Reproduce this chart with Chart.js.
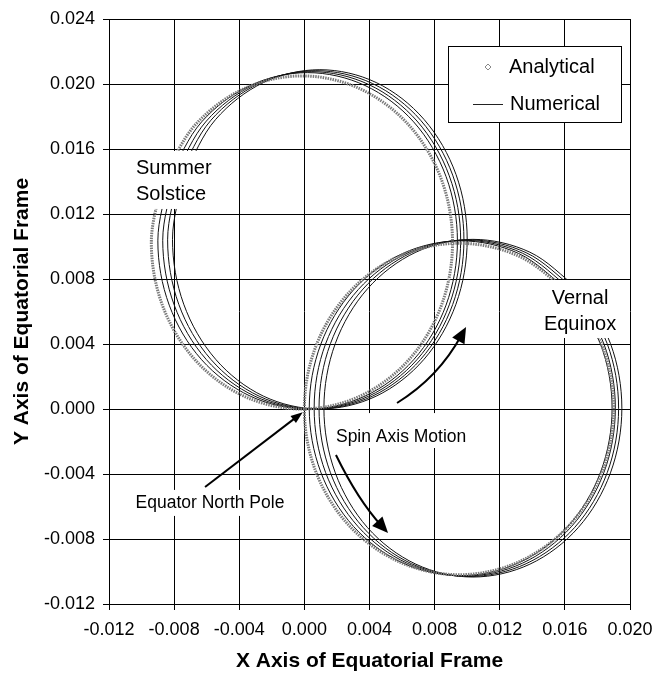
<!DOCTYPE html>
<html>
<head>
<meta charset="utf-8">
<script src="https://cdn.jsdelivr.net/npm/chart.js@4.4.0/dist/chart.umd.min.js"></script>
<style>
  html, body { margin: 0; padding: 0; background: #fff; }
  canvas { display: block; }
</style>
</head>
<body>
<canvas id="spinChart" width="667" height="673"></canvas>
<script>
// Axis ticks
const xTickValues = [-0.012, -0.008, -0.004, 0.000, 0.004, 0.008, 0.012, 0.016, 0.020];
const yTickValues = [-0.012, -0.008, -0.004, 0.000, 0.004, 0.008, 0.012, 0.016, 0.020, 0.024];

// Summer solstice loops [x, y]
const solsticeAnalytical = [[-0.00870,0.01417],[-0.00940,0.01025],[-0.00870,0.00633],[-0.00669,0.00300],[-0.00369,0.00078],[-0.00015,0],[0.00339,0.00078],[0.00639,0.00300],[0.00840,0.00633],[0.00910,0.01025],[0.00840,0.01417],[0.00639,0.01750],[0.00339,0.01972],[-0.00015,0.02050],[-0.00369,0.01972],[-0.00669,0.01750],[-0.00870,0.01417]];
const solsticeNumerical1 = [[-0.00830,0.01431],[-0.00900,0.01035],[-0.00830,0.00639],[-0.00631,0.00303],[-0.00332,0.00079],[0.00020,0],[0.00372,0.00079],[0.00671,0.00303],[0.00870,0.00639],[0.00940,0.01035],[0.00870,0.01431],[0.00671,0.01767],[0.00372,0.01991],[0.00020,0.02070],[-0.00332,0.01991],[-0.00631,0.01767],[-0.00830,0.01431]];
const solsticeNumerical2 = [[-0.00800,0.01435],[-0.00870,0.01038],[-0.00800,0.00641],[-0.00602,0.00304],[-0.00305,0.00079],[0.00045,0],[0.00395,0.00079],[0.00692,0.00304],[0.00890,0.00641],[0.00960,0.01038],[0.00890,0.01435],[0.00692,0.01772],[0.00395,0.01997],[0.00045,0.02076],[-0.00305,0.01997],[-0.00602,0.01772],[-0.00800,0.01435]];
const solsticeNumerical3 = [[-0.00771,0.01439],[-0.00840,0.01041],[-0.00771,0.00643],[-0.00574,0.00305],[-0.00278,0.00079],[0.00070,0],[0.00418,0.00079],[0.00714,0.00305],[0.00911,0.00643],[0.00980,0.01041],[0.00911,0.01439],[0.00714,0.01777],[0.00418,0.02003],[0.00070,0.02082],[-0.00278,0.02003],[-0.00574,0.01777],[-0.00771,0.01439]];
const solsticeNumerical4 = [[-0.00741,0.01444],[-0.00810,0.01044],[-0.00741,0.00645],[-0.00545,0.00306],[-0.00251,0.00079],[0.00095,0],[0.00441,0.00079],[0.00735,0.00306],[0.00931,0.00645],[0.01000,0.01044],[0.00931,0.01444],[0.00735,0.01782],[0.00441,0.02009],[0.00095,0.02088],[-0.00251,0.02009],[-0.00545,0.01782],[-0.00741,0.01444]];

// Vernal equinox loops [x, y]
const equinoxAnalytical = [[0.01622,0.00721],[0.01314,0.00942],[0.00950,0.01020],[0.00586,0.00942],[0.00278,0.00721],[0.00072,0.00390],[0,0],[0.00072,-0.00390],[0.00278,-0.00721],[0.00586,-0.00942],[0.00950,-0.01020],[0.01314,-0.00942],[0.01622,-0.00721],[0.01828,-0.00390],[0.01900,0],[0.01828,0.00390],[0.01622,0.00721]];
const equinoxNumerical1 = [[0.01618,0.00733],[0.01316,0.00957],[0.00960,0.01035],[0.00604,0.00957],[0.00302,0.00733],[0.00101,0.00399],[0.00030,0.00005],[0.00101,-0.00389],[0.00302,-0.00723],[0.00604,-0.00947],[0.00960,-0.01025],[0.01316,-0.00947],[0.01618,-0.00723],[0.01819,-0.00389],[0.01890,0.00005],[0.01819,0.00399],[0.01618,0.00733]];
const equinoxNumerical2 = [[0.01639,0.00735],[0.01339,0.00959],[0.00985,0.01038],[0.00631,0.00959],[0.00331,0.00735],[0.00130,0.00400],[0.00060,0.00005],[0.00130,-0.00390],[0.00331,-0.00725],[0.00631,-0.00949],[0.00985,-0.01028],[0.01339,-0.00949],[0.01639,-0.00725],[0.01840,-0.00390],[0.01910,0.00005],[0.01840,0.00400],[0.01639,0.00735]];
const equinoxNumerical3 = [[0.01661,0.00738],[0.01362,0.00962],[0.01010,0.01041],[0.00658,0.00962],[0.00360,0.00738],[0.00160,0.00402],[0.00090,0.00005],[0.00160,-0.00392],[0.00360,-0.00728],[0.00658,-0.00952],[0.01010,-0.01031],[0.01362,-0.00952],[0.01661,-0.00728],[0.01860,-0.00392],[0.01930,0.00005],[0.01860,0.00402],[0.01661,0.00738]];
const equinoxNumerical4 = [[0.01682,0.00740],[0.01385,0.00965],[0.01035,0.01044],[0.00685,0.00965],[0.00388,0.00740],[0.00190,0.00403],[0.00120,0.00005],[0.00190,-0.00393],[0.00388,-0.00730],[0.00685,-0.00955],[0.01035,-0.01034],[0.01385,-0.00955],[0.01682,-0.00730],[0.01880,-0.00393],[0.01950,0.00005],[0.01880,0.00403],[0.01682,0.00740]];

const FONT = "'Liberation Sans', Arial, sans-serif";

// Text boxes on the plot, in data units (box = [x0, y0, x1, y1])
const labelNotes = [
    { lines: ['Summer', 'Solstice'], x: -0.01034, y: [0.01483, 0.01323], align: 'left', size: 20, box: [-0.01053, 0.01588, -0.00531, 0.01231] },
    { lines: ['Vernal', 'Equinox'], x: 0.01693, y: [0.00683, 0.00523], align: 'center', size: 20, box: [0.01435, 0.00794, 0.01939, 0.00437] },
    { lines: ['Spin Axis Motion'], x: 0.00194, y: [-0.00172], align: 'left', size: 17.5, box: [0.00164, -0.00025, 0.01023, -0.00240] },
    { lines: ['Equator North Pole'], x: -0.00580, y: [-0.00578], align: 'center', size: 17.5, box: [-0.01065, -0.00498, -0.00088, -0.00658] }
];

// Arrows: start, optional control, tip (data units)
const arrowNotes = [
    { from: [-0.00610, -0.00480], tip: [-0.00010, -0.00020], head: [12, 4.5] },
    { from: [0.00569, 0.00037], ctrl: [0.00821, 0.00191], tip: [0.00993, 0.00505], head: [16, 7] },
    { from: [0.00194, -0.00283], ctrl: [0.00329, -0.00560], tip: [0.00514, -0.00763], head: [16, 7] }
];

function toPoints(pairs) {
    return pairs.map(p => ({ x: p[0], y: p[1] }));
}

function fmt(v) {
    return (Math.abs(v) < 1e-9 ? 0 : v).toFixed(3);
}

const datasets = [];
[solsticeAnalytical, equinoxAnalytical].forEach(curve => {
    datasets.push({
        label: 'Analytical',
        data: toPoints(curve),
        showLine: true,
        pointRadius: 0,
        tension: 0.34,
        borderColor: '#7a7a7a',
        borderWidth: 3,
        borderDash: [1.5, 1]
    });
});
[solsticeNumerical1, solsticeNumerical2, solsticeNumerical3, solsticeNumerical4,
 equinoxNumerical1, equinoxNumerical2, equinoxNumerical3, equinoxNumerical4].forEach(curve => {
    datasets.push({
        label: 'Numerical',
        data: toPoints(curve),
        showLine: true,
        pointRadius: 0,
        tension: 0.34,
        borderColor: '#111',
        borderWidth: 1
    });
});

function drawHead(ctx, tx, ty, ang, len, half) {
    ctx.beginPath();
    ctx.moveTo(tx, ty);
    ctx.lineTo(tx - len * Math.cos(ang) + half * Math.sin(ang), ty - len * Math.sin(ang) - half * Math.cos(ang));
    ctx.lineTo(tx - len * Math.cos(ang) - half * Math.sin(ang), ty - len * Math.sin(ang) + half * Math.cos(ang));
    ctx.closePath();
    ctx.fill();
}

// Labels, arrows and legend
const notesPlugin = {
    id: 'notes',
    afterDatasetsDraw(chart) {
        const { ctx, chartArea } = chart;
        const sx = chart.scales.x, sy = chart.scales.y;
        const px = v => sx.getPixelForValue(v);
        const py = v => sy.getPixelForValue(v);
        ctx.save();

        labelNotes.forEach(n => {
            const [x0, y0, x1, y1] = n.box;
            ctx.fillStyle = '#fff';
            ctx.fillRect(px(x0), py(y0), px(x1) - px(x0), py(y1) - py(y0));
            ctx.fillStyle = '#000';
            ctx.font = n.size + 'px ' + FONT;
            ctx.textAlign = n.align;
            ctx.textBaseline = 'middle';
            n.lines.forEach((t, i) => ctx.fillText(t, px(n.x), py(n.y[i])));
        });

        ctx.strokeStyle = '#000';
        ctx.fillStyle = '#000';
        ctx.lineWidth = 2;
        arrowNotes.forEach(a => {
            const s = [px(a.from[0]), py(a.from[1])];
            const t = [px(a.tip[0]), py(a.tip[1])];
            const c = a.ctrl ? [px(a.ctrl[0]), py(a.ctrl[1])] : s;
            const ang = Math.atan2(t[1] - c[1], t[0] - c[0]);
            const ex = t[0] - Math.cos(ang) * a.head[0] * 0.6;
            const ey = t[1] - Math.sin(ang) * a.head[0] * 0.6;
            ctx.beginPath();
            ctx.moveTo(s[0], s[1]);
            if (a.ctrl) ctx.quadraticCurveTo(c[0], c[1], ex, ey);
            else ctx.lineTo(ex, ey);
            ctx.stroke();
            drawHead(ctx, t[0], t[1], ang, a.head[0], a.head[1]);
        });

        // legend box
        const lw = 173, lh = 76;
        const lx = Math.round(chartArea.right) - 182, ly = Math.round(chartArea.top) + 27;
        ctx.fillStyle = '#fff';
        ctx.fillRect(lx, ly, lw, lh);
        ctx.lineWidth = 1;
        ctx.strokeStyle = '#000';
        ctx.strokeRect(lx + 0.5, ly + 0.5, lw, lh);

        ctx.strokeStyle = '#888';
        ctx.beginPath();
        const dx = lx + 40, dy = ly + 21;
        ctx.moveTo(dx, dy - 3); ctx.lineTo(dx + 3, dy); ctx.lineTo(dx, dy + 3); ctx.lineTo(dx - 3, dy); ctx.closePath();
        ctx.stroke();

        ctx.strokeStyle = '#222';
        ctx.beginPath();
        ctx.moveTo(lx + 25, ly + 58.5);
        ctx.lineTo(lx + 55, ly + 58.5);
        ctx.stroke();

        ctx.fillStyle = '#000';
        ctx.font = '20px ' + FONT;
        ctx.textAlign = 'left';
        ctx.textBaseline = 'middle';
        ctx.fillText('Analytical', lx + 61, dy);
        ctx.fillText('Numerical', lx + 62, ly + 58);
        ctx.restore();
    }
};

const spinCtx = document.getElementById('spinChart').getContext('2d');
window.spinChart = new Chart(spinCtx, {
    type: 'scatter',
    data: { datasets: datasets },
    options: {
        responsive: false,
        animation: false,
        devicePixelRatio: 1,
        layout: { padding: { left: 0, right: 37, top: 19, bottom: 0 } },
        plugins: {
            legend: { display: false },
            tooltip: { enabled: false }
        },
        scales: {
            x: {
                type: 'linear',
                min: -0.012,
                max: 0.020,
                afterBuildTicks: s => { s.ticks = xTickValues.map(v => ({ value: v })); },
                afterFit: s => { s.height = 69; },
                grid: { color: '#000', lineWidth: 1, tickLength: 6, tickColor: '#000' },
                border: { color: '#000', width: 1 },
                ticks: { color: '#000', font: { family: FONT, size: 18 }, padding: 9, maxRotation: 0, autoSkip: false, callback: v => fmt(v) },
                title: { display: true, text: 'X Axis of Equatorial Frame', color: '#000', font: { family: FONT, size: 21, weight: 'bold', lineHeight: 1 }, padding: { top: 0, bottom: 1 } }
            },
            y: {
                type: 'linear',
                min: -0.012,
                max: 0.024,
                afterBuildTicks: s => { s.ticks = yTickValues.map(v => ({ value: v })); },
                afterFit: s => { s.width = 109; },
                grid: { color: '#000', lineWidth: 1, tickLength: 6, tickColor: '#000' },
                border: { color: '#000', width: 1 },
                ticks: { color: '#000', font: { family: FONT, size: 18 }, padding: 8, autoSkip: false, callback: v => fmt(v) },
                title: { display: true, text: 'Y Axis of Equatorial Frame', color: '#000', font: { family: FONT, size: 21, weight: 'bold', lineHeight: 1 }, padding: { top: 12, bottom: 0 } }
            }
        }
    },
    plugins: [notesPlugin]
});
</script>
</body>
</html>
